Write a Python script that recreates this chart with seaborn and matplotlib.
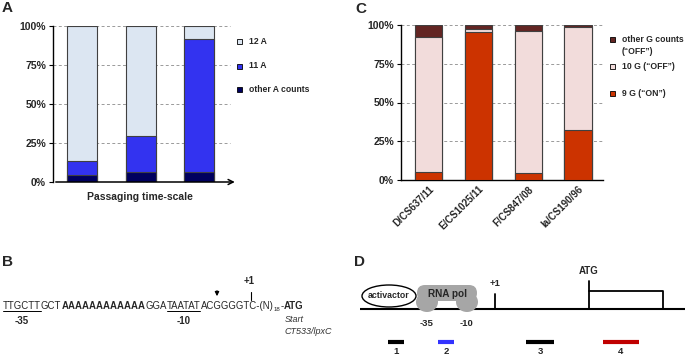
import matplotlib
matplotlib.use("Agg")
import matplotlib.pyplot as plt
import numpy as np
import seaborn as sns
from matplotlib.patches import Ellipse, FancyBboxPatch, Rectangle

# ---- panel A: A-tract length over passaging (percent of reads)
A_CATS = ["p1", "p2", "p3"]
A_OTHER = [4.5, 6.4, 6.2]
A_11A = [9.0, 22.9, 85.2]
A_12A = [86.5, 70.7, 8.6]
A_LABELS = ["12 A", "11 A", "other A counts"]
A_COLORS = ["#dce6f2", "#3333f0", "#00005e"]

# ---- panel C: G-tract length per strain (percent of reads)
C_CATS = ["D/CS637/11", "E/CS1025/11", "F/CS847/08", "Ia/CS190/96"]
C_9G = [5.4, 95.3, 4.5, 32.3]
C_10G = [87.1, 1.9, 91.8, 66.6]
C_OTHER = [7.5, 2.8, 3.7, 1.1]
C_LABELS = ["other G counts\n(\u201cOFF\u201d)", "10 G (\u201cOFF\u201d)", "9 G (\u201cON\u201d)"]
C_COLORS = ["#632523", "#f2dcdb", "#cc3300"]

Y_TICKS = [0, 25, 50, 75, 100]

# ---- panel B: promoter sequence pieces
SEQ_TEXT = ["TTGCTT", "GCT", "A" * 12, "GGA", "TAATAT", "ACGGGGTC-(N)", "18", "-", "ATG"]
SEQ_BOLD = [False, False, True, False, False, False, False, False, True]
SEQ_UNDER = [True, False, False, False, True, False, False, False, False]
SEQ_SUB = [False, False, False, False, False, False, True, False, False]

# ---- panel D: schematic (positions along promoter, arbitrary units)
D_FRAG_LABELS = ["1", "2", "3", "4"]
D_FRAG_START = [28, 78, 166, 243]
D_FRAG_END = [44, 94, 194, 279]
D_FRAG_COLORS = ["black", "#3333ff", "black", "#c00000"]

W, H = 685, 357
sns.set_theme(style="white")
plt.rcParams["font.family"] = ["Liberation Sans", "DejaVu Sans"]
EDGE = "#404040"


def px_axes(fig, left, top, right, bottom):
    return fig.add_axes([left / W, 1 - bottom / H, (right - left) / W, (bottom - top) / H])


def stacked(ax, cats, layers, colors, width):
    # draw from the full stack down so lower segments sit on top
    cum = np.cumsum(np.array(layers), axis=0)
    for i in range(len(layers) - 1, -1, -1):
        sns.barplot(x=cats, y=cum[i], color=colors[i], width=width, saturation=1,
                    edgecolor=EDGE, linewidth=0.8, ax=ax, zorder=3)


def style_pct_axis(ax, xmin, xmax, grid_end, tick_size):
    ax.set_ylim(0, 100)
    ax.set_xlim(xmin, xmax)
    ax.hlines(Y_TICKS[1:], xmin, grid_end, colors="#9a9a9a", linestyles=(0, (3, 2.5)), lw=0.7, zorder=1)
    ax.set_yticks(Y_TICKS)
    ax.set_yticklabels([f"{t}%" for t in Y_TICKS], fontsize=tick_size, fontweight="bold")
    ax.tick_params(axis="y", length=3, width=0.8, pad=2, left=True, color="black")
    ax.set_ylabel("")
    for s in ["top", "right"]:
        ax.spines[s].set_visible(False)
    ax.spines["left"].set_linewidth(1)
    ax.spines["left"].set_color("black")
    ax.patch.set_alpha(0)


fig = plt.figure(figsize=(W / 100, H / 100), dpi=100)

# ---------------- panel A
axA = px_axes(fig, 53, 26, 237, 182)
stacked(axA, A_CATS, [A_OTHER, A_11A, A_12A], [A_COLORS[2], A_COLORS[1], A_COLORS[0]], 0.51)
style_pct_axis(axA, -0.5, 2.65, 2.53, 7.5)
axA.set_xticks([])
axA.spines["bottom"].set_visible(False)
axA.annotate("", xy=(2.66, 0), xytext=(-0.5, 0),
             arrowprops=dict(arrowstyle="->", lw=1.1, color="black", mutation_scale=9),
             annotation_clip=False)

# ---------------- panel C
axC = px_axes(fig, 401, 25, 603, 180)
stacked(axC, C_CATS, [C_9G, C_10G, C_OTHER], [C_COLORS[2], C_COLORS[1], C_COLORS[0]], 0.55)
style_pct_axis(axC, -0.552, 3.5, 3.5, 7.5)
axC.spines["bottom"].set_linewidth(1)
axC.spines["bottom"].set_color("black")
axC.set_xticklabels(C_CATS, rotation=45, ha="right", rotation_mode="anchor",
                    fontsize=7, fontweight="bold")
axC.tick_params(axis="x", length=0, pad=3)

# ---------------- overlay in pixel coordinates
ov = fig.add_axes([0, 0, 1, 1])
ov.set_xlim(0, W)
ov.set_ylim(H, 0)
ov.axis("off")
ov.patch.set_alpha(0)

for letter, x, y in [("A", 7, 8), ("C", 361, 9), ("B", 8, 262), ("D", 360, 262)]:
    ov.text(x, y, letter, fontsize=11, fontweight="bold", ha="center", va="center")

ov.text(140, 197, "Passaging time-scale", fontsize=7.5, fontweight="bold", ha="center", va="center")

# legends
for (lab, col), y in zip(zip(A_LABELS, A_COLORS), [41, 66, 89]):
    ov.add_patch(Rectangle((237, y - 2.5), 5, 5, facecolor=col, edgecolor="black", lw=0.6))
    ov.text(249, y, lab, fontsize=6.2, fontweight="bold", va="center")
for (lab, col), y in zip(zip(C_LABELS, C_COLORS), [39, 66, 93]):
    ov.add_patch(Rectangle((610, y - 2.5), 5, 5, facecolor=col, edgecolor="black", lw=0.6))
    ov.text(622, y - 4, lab, fontsize=6.2, fontweight="bold", va="top", linespacing=1.45)

# ---------------- panel B: sequence laid out piece by piece
renderer = fig.canvas.get_renderer()
x = 3.0
base = 309
starts, ends = [], []
for txt, bold, under, sub in zip(SEQ_TEXT, SEQ_BOLD, SEQ_UNDER, SEQ_SUB):
    t = ov.text(x, base + (2 if sub else 0), txt, fontsize=4.4 if sub else 6.95,
                fontweight="bold" if bold else "normal", va="baseline", ha="left")
    bb = t.get_window_extent(renderer)
    starts.append(x)
    x += bb.width
    ends.append(x)
    if under:
        ov.plot([starts[-1], x], [base + 1.5, base + 1.5], color="black", lw=0.7)

ov.text((starts[0] + ends[0]) / 2, 321, "-35", fontsize=7, fontweight="bold", ha="center", va="center")
ov.text((starts[4] + ends[4]) / 2, 321, "-10", fontsize=7, fontweight="bold", ha="center", va="center")
ov.annotate("", xy=(217, 299), xytext=(217, 288),
            arrowprops=dict(arrowstyle="-|>", lw=0.9, color="black", mutation_scale=6))
ov.text(249, 281, "+1", fontsize=7, fontweight="bold", ha="center", va="center")
ov.plot([251, 251], [292, 299.5], color="black", lw=0.8)
ov.text(285, 320, "Start", fontsize=6.5, style="italic", ha="left", va="center", color="#333333")
ov.text(285, 331, "CT533/lpxC", fontsize=6.5, style="italic", ha="left", va="center", color="#333333")

# ---------------- panel D: promoter schematic
axD = fig.add_axes([360 / W, 0, (W - 360) / W, 1])
axD.set_xlim(0, W - 360)
axD.set_ylim(H, 0)
axD.axis("off")
axD.patch.set_alpha(0)

axD.plot([0, W - 360], [309, 309], color="black", lw=1.5, zorder=2)
axD.add_patch(Ellipse((29, 296), 54, 22, facecolor="white", edgecolor="black", lw=1, zorder=3))
axD.text(29, 296, "activactor", fontsize=6.3, fontweight="bold", ha="center", va="center", zorder=4)
gray = "#a6a6a6"
axD.add_patch(FancyBboxPatch((57, 285), 60, 16, boxstyle="round,pad=0,rounding_size=8",
                             facecolor=gray, edgecolor="none", zorder=3))
axD.add_patch(Ellipse((67, 302), 22, 20, facecolor=gray, edgecolor="none", zorder=3))
axD.add_patch(Ellipse((107, 302), 22, 20, facecolor=gray, edgecolor="none", zorder=3))
axD.text(87, 294, "RNA pol", fontsize=7.2, fontweight="bold", ha="center", va="center", zorder=4)
axD.text(67, 323, "-35", fontsize=6.8, fontweight="bold", ha="center", va="center")
axD.text(106, 323, "-10", fontsize=6.8, fontweight="bold", ha="center", va="center")

axD.plot([135, 135], [294, 309], color="black", lw=1.3)
axD.text(135, 283, "+1", fontsize=6.8, fontweight="bold", ha="center", va="center")
axD.plot([229, 229], [281, 309], color="black", lw=1.3)
axD.plot([229, 303, 303], [291, 291, 309], color="black", lw=1.3)
axD.text(229, 271, "ATG", fontsize=7, fontweight="bold", ha="center", va="center")

for lab, s, e, col in zip(D_FRAG_LABELS, D_FRAG_START, D_FRAG_END, D_FRAG_COLORS):
    axD.plot([s, e], [342, 342], color=col, lw=3, solid_capstyle="butt")
    axD.text((s + e) / 2, 352, lab, fontsize=6.8, fontweight="bold", ha="center", va="center")

fig.savefig("out.png", dpi=100)
